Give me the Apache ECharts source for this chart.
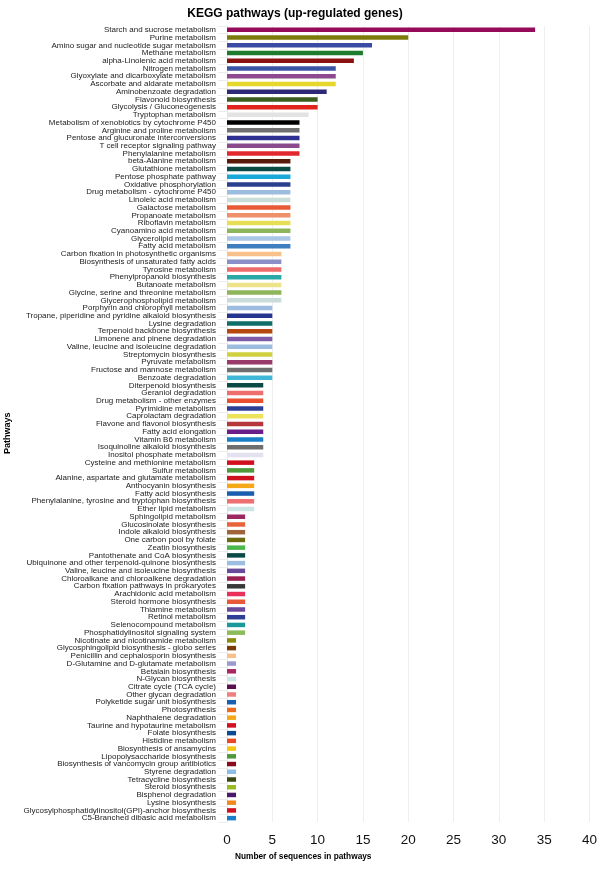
<!DOCTYPE html>
<html>
<head>
<meta charset="utf-8">
<script src="https://cdn.jsdelivr.net/npm/echarts@6/dist/echarts.min.js"></script>
<style>
html,body{margin:0;padding:0;background:#fff;}
#chart{width:600px;height:872px;}
</style>
</head>
<body>
<div id="chart"></div>
<script>
const pathways = [
"Starch and sucrose metabolism","Purine metabolism","Amino sugar and nucleotide sugar metabolism","Methane metabolism","alpha-Linolenic acid metabolism",
"Nitrogen metabolism","Glyoxylate and dicarboxylate metabolism","Ascorbate and aldarate metabolism","Aminobenzoate degradation","Flavonoid biosynthesis",
"Glycolysis / Gluconeogenesis","Tryptophan metabolism","Metabolism of xenobiotics by cytochrome P450","Arginine and proline metabolism","Pentose and glucuronate interconversions",
"T cell receptor signaling pathway","Phenylalanine metabolism","beta-Alanine metabolism","Glutathione metabolism","Pentose phosphate pathway",
"Oxidative phosphorylation","Drug metabolism - cytochrome P450","Linoleic acid metabolism","Galactose metabolism","Propanoate metabolism",
"Riboflavin metabolism","Cyanoamino acid metabolism","Glycerolipid metabolism","Fatty acid metabolism","Carbon fixation in photosynthetic organisms",
"Biosynthesis of unsaturated fatty acids","Tyrosine metabolism","Phenylpropanoid biosynthesis","Butanoate metabolism","Glycine, serine and threonine metabolism",
"Glycerophospholipid metabolism","Porphyrin and chlorophyll metabolism","Tropane, piperidine and pyridine alkaloid biosynthesis","Lysine degradation","Terpenoid backbone biosynthesis",
"Limonene and pinene degradation","Valine, leucine and isoleucine degradation","Streptomycin biosynthesis","Pyruvate metabolism","Fructose and mannose metabolism",
"Benzoate degradation","Diterpenoid biosynthesis","Geraniol degradation","Drug metabolism - other enzymes","Pyrimidine metabolism",
"Caprolactam degradation","Flavone and flavonol biosynthesis","Fatty acid elongation","Vitamin B6 metabolism","Isoquinoline alkaloid biosynthesis",
"Inositol phosphate metabolism","Cysteine and methionine metabolism","Sulfur metabolism","Alanine, aspartate and glutamate metabolism","Anthocyanin biosynthesis",
"Fatty acid biosynthesis","Phenylalanine, tyrosine and tryptophan biosynthesis","Ether lipid metabolism","Sphingolipid metabolism","Glucosinolate biosynthesis",
"Indole alkaloid biosynthesis","One carbon pool by folate","Zeatin biosynthesis","Pantothenate and CoA biosynthesis","Ubiquinone and other terpenoid-quinone biosynthesis",
"Valine, leucine and isoleucine biosynthesis","Chloroalkane and chloroalkene degradation","Carbon fixation pathways in prokaryotes","Arachidonic acid metabolism","Steroid hormone biosynthesis",
"Thiamine metabolism","Retinol metabolism","Selenocompound metabolism","Phosphatidylinositol signaling system","Nicotinate and nicotinamide metabolism",
"Glycosphingolipid biosynthesis - globo series","Penicillin and cephalosporin biosynthesis","D-Glutamine and D-glutamate metabolism","Betalain biosynthesis","N-Glycan biosynthesis",
"Citrate cycle (TCA cycle)","Other glycan degradation","Polyketide sugar unit biosynthesis","Photosynthesis","Naphthalene degradation",
"Taurine and hypotaurine metabolism","Folate biosynthesis","Histidine metabolism","Biosynthesis of ansamycins","Lipopolysaccharide biosynthesis",
"Biosynthesis of vancomycin group antibiotics","Styrene degradation","Tetracycline biosynthesis","Steroid biosynthesis","Bisphenol degradation",
"Lysine biosynthesis","Glycosylphosphatidylinositol(GPI)-anchor biosynthesis","C5-Branched dibasic acid metabolism"
];
const sequenceCounts = [
34,20,16,15,14,
12,12,12,11,10,
10,9,8,8,8,
8,8,7,7,7,
7,7,7,7,7,
7,7,7,7,6,
6,6,6,6,6,
6,5,5,5,5,
5,5,5,5,5,
5,4,4,4,4,
4,4,4,4,4,
4,3,3,3,3,
3,3,3,2,2,
2,2,2,2,2,
2,2,2,2,2,
2,2,2,2,1,
1,1,1,1,1,
1,1,1,1,1,
1,1,1,1,1,
1,1,1,1,1,
1,1,1
];
const barColors = [
"#960A5A","#7C7A0A","#3B4BA3","#1E7B2E","#8B1010",
"#3B53A4","#8E4A8E","#E6D82A","#2E2A78","#3A5E1E",
"#E0231B","#E3E3E3","#000000","#707070","#2E3192",
"#8B4A8B","#E0282E","#5A1A0A","#0A4A45","#19A8D8",
"#2B3F8F","#9DBDE0","#C8DCD8","#E85A35","#F0906A",
"#E8DE55","#8DB55A","#A9C6E6","#3F7FC0","#F8C08A",
"#8A8FC8","#EE6B6B","#2AA8A8","#EEE38A","#8DB55A",
"#CADCDA","#9DBDE0","#25348F","#0F6E6A","#B5480F",
"#7E5BA8","#9DBDE0","#D0D040","#9A3A6A","#6E6E6E",
"#3FB8D8","#0A4A45","#EE6E6E","#E85030","#2E3F96",
"#EDE35A","#B5373B","#6A1E8A","#1A7FC6","#6E6E6E",
"#E2E2F0","#D0101E","#4E9A3A","#D0101E","#F5A818",
"#1A5EB0","#EE7070","#CCE6E6","#9B2860","#E8623A",
"#A0643A","#6E6A10","#4CB84C","#0A4A45","#9DBDE0",
"#6A4A9A","#9A2050","#3A3A3A","#E8305A","#E85A35",
"#6A4A9A","#2E3F96","#1A9A9A","#8DBB5A","#8A8A10",
"#7A3A0A","#F8C08A","#9A9ACC","#A82860","#CCE6E6",
"#5A1050","#EE8080","#1A5EB0","#EE6A20","#F5A818",
"#D0101E","#0A4A90","#E84A25","#F5C810","#4E9A3A",
"#8A0A20","#8FBDE6","#3A4A10","#9ABB20","#4A1A6A",
"#F08A20","#D0101E","#1A7FC6"
];
const xTicks = [0,5,10,15,20,25,30,35,40];

const font = "Liberation Sans, Arial, sans-serif";
const chart = echarts.init(document.getElementById('chart'), null, {renderer:'canvas'});
chart.setOption({
  backgroundColor:'#ffffff',
  animation:false,
  title:{
    text:'KEGG pathways (up-regulated genes)',
    left:290, top:3, textAlign:'center',
    textStyle:{fontFamily:font,fontSize:12,fontWeight:'bold',color:'#000'}
  },
  grid:{left:227, right:7, top:26, bottom:50, containLabel:false},
  xAxis:{
    type:'value', min:xTicks[0], max:xTicks[xTicks.length-1], interval:5,
    axisLine:{show:false}, axisTick:{show:false},
    splitLine:{show:true,lineStyle:{color:'#EFEFEF',width:1}},
    axisLabel:{fontFamily:font,fontSize:13.5,color:'#111',margin:11}
  },
  yAxis:{
    type:'category', inverse:true, data:pathways,
    axisLine:{show:true,lineStyle:{color:'#E8E8E8'}},
    axisTick:{show:true,length:9,lineStyle:{color:'#EDEDED'}},
    axisLabel:{fontFamily:font,fontSize:8,color:'#222',margin:11,interval:0}
  },
  graphic:[
    {type:'text', left:235, top:853, style:{text:'Number of sequences in pathways',font:'bold 8.3px Liberation Sans, Arial, sans-serif',fill:'#000'}},
    {type:'text', x:3, y:454, rotation:Math.PI/2, style:{text:'Pathways',font:'bold 9px Liberation Sans, Arial, sans-serif',fill:'#000'}}
  ],
  series:[{
    type:'bar', barWidth:4.5,
    data: sequenceCounts.map((v,i)=>({value:v,itemStyle:{color:barColors[i]}}))
  }]
});
</script>
</body>
</html>
